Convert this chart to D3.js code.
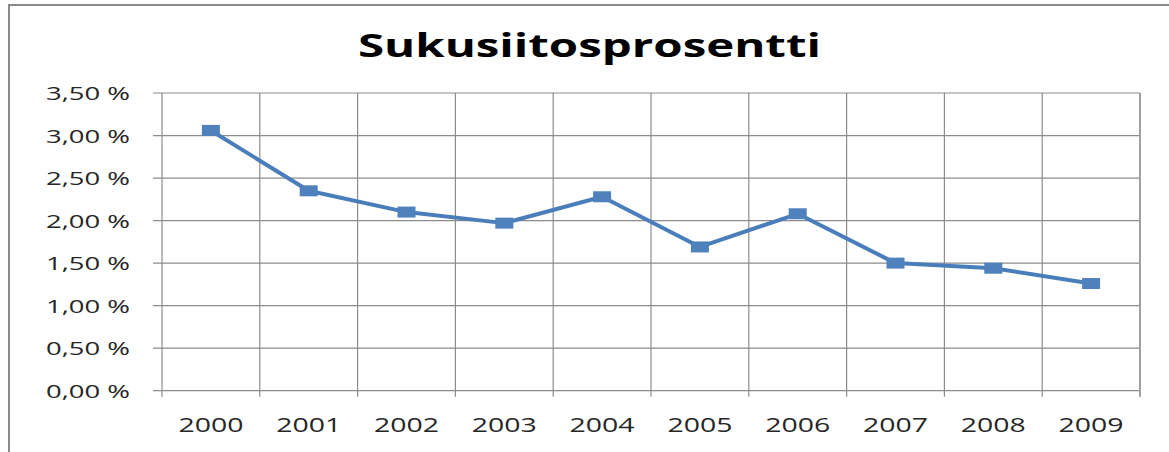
<!DOCTYPE html>
<html>
  <head>
    <meta charset="utf-8">
    <title>Sukusiitosprosentti</title>
    <script src="https://d3js.org/d3.v7.min.js"></script>
    <style>
      body { margin: 0; background: #fff; }
      text { font-family: "Open Sans", sans-serif; }
    </style>
  </head>
  <body>
    <script>
    // data
    var years = ["2000", "2001", "2002", "2003", "2004", "2005", "2006", "2007", "2008", "2009"]
    var inbreeding = [0.0306, 0.0235, 0.0210, 0.0197, 0.0228, 0.0169, 0.0208, 0.0150, 0.0144, 0.0126]
    var yTicks = [0, 0.005, 0.01, 0.015, 0.02, 0.025, 0.03, 0.035]
    var title = "Sukusiitosprosentti"

    // plot area edges (note: "top" is taken by window.top, so prefix them)
    var width = 1169,
        height = 452,
        plotLeft = 162, plotRight = 1140,
        plotTop = 93, plotBottom = 390.7

    var fi = d3.formatLocale({decimal: ",", thousands: " ", grouping: [3], currency: ["", " €"]})
    var pct = function(d) { return fi.format(".2f")(d * 100) + " %" }

    var svg = d3.select("body").append("svg")
                .attr("width", width)
                .attr("height", height)

    // outer chart frame (runs past the picture on right and bottom)
    svg.append("rect")
      .attr("x", 9).attr("y", 5)
      .attr("width", 1200).attr("height", 500)
      .attr("fill", "#fff")
      .attr("stroke", "#8a8a8a")
      .attr("stroke-width", 2)

    var x = d3.scaleBand()
              .domain(years)
              .range([plotLeft, plotRight])
              .padding(0)

    var y = d3.scaleLinear()
              .domain([0, 0.035])
              .range([plotBottom, plotTop])

    // horizontal gridlines + small ticks left of the axis
    svg.append("g").selectAll("line")
      .data(yTicks)
      .enter().append("line")
      .attr("x1", plotLeft - 9).attr("x2", plotRight)
      .attr("y1", function(d) { return y(d) }).attr("y2", function(d) { return y(d) })
      .attr("stroke", "#8c8c8c")
      .attr("stroke-width", 1.2)

    // vertical gridlines at band edges, running a little below the axis
    var edges = years.map(function(d) { return x(d) }).concat([x(years[years.length - 1]) + x.bandwidth()])
    svg.append("g").selectAll("line")
      .data(edges)
      .enter().append("line")
      .attr("x1", function(d) { return d }).attr("x2", function(d) { return d })
      .attr("y1", plotTop).attr("y2", plotBottom + 6)
      .attr("stroke", function(d, i) { return i == edges.length - 1 ? "#a0a0a0" : "#8c8c8c" })
      .attr("stroke-width", function(d, i) { return i == edges.length - 1 ? 2 : 1.2 })

    // y labels
    svg.append("g").selectAll("text")
      .data(yTicks)
      .enter().append("text")
      .attr("x", 130)
      .attr("y", function(d) { return y(d) + 7 })
      .attr("text-anchor", "end")
      .attr("font-size", 19)
      .attr("fill", "#262626")
      .attr("textLength", 84)
      .attr("lengthAdjust", "spacingAndGlyphs")
      .text(pct)

    // x labels
    svg.append("g").selectAll("text")
      .data(years)
      .enter().append("text")
      .attr("x", function(d) { return x(d) + x.bandwidth() / 2 })
      .attr("y", 431.7)
      .attr("text-anchor", "middle")
      .attr("font-size", 20)
      .attr("fill", "#262626")
      .attr("textLength", 65)
      .attr("lengthAdjust", "spacingAndGlyphs")
      .text(function(d) { return d })

    // the line
    var line = d3.line()
                 .x(function(d, i) { return x(years[i]) + x.bandwidth() / 2 })
                 .y(function(d) { return y(d) })

    svg.append("path")
      .datum(inbreeding)
      .attr("d", line)
      .attr("fill", "none")
      .attr("stroke", "#4a7ebb")
      .attr("stroke-width", 4)
      .attr("stroke-linejoin", "round")

    // square markers (stretched like the original)
    svg.append("g").selectAll("rect")
      .data(inbreeding)
      .enter().append("rect")
      .attr("x", function(d, i) { return x(years[i]) + x.bandwidth() / 2 - 9 })
      .attr("y", function(d) { return y(d) - 5.5 })
      .attr("width", 18)
      .attr("height", 11)
      .attr("fill", "#4f81bd")

    // title
    svg.append("text")
      .attr("x", 358)
      .attr("y", 56.7)
      .attr("font-size", 33)
      .attr("font-weight", "bold")
      .attr("fill", "#000")
      .attr("textLength", 463)
      .attr("lengthAdjust", "spacingAndGlyphs")
      .text(title)

    </script>
  </body>
</html>
